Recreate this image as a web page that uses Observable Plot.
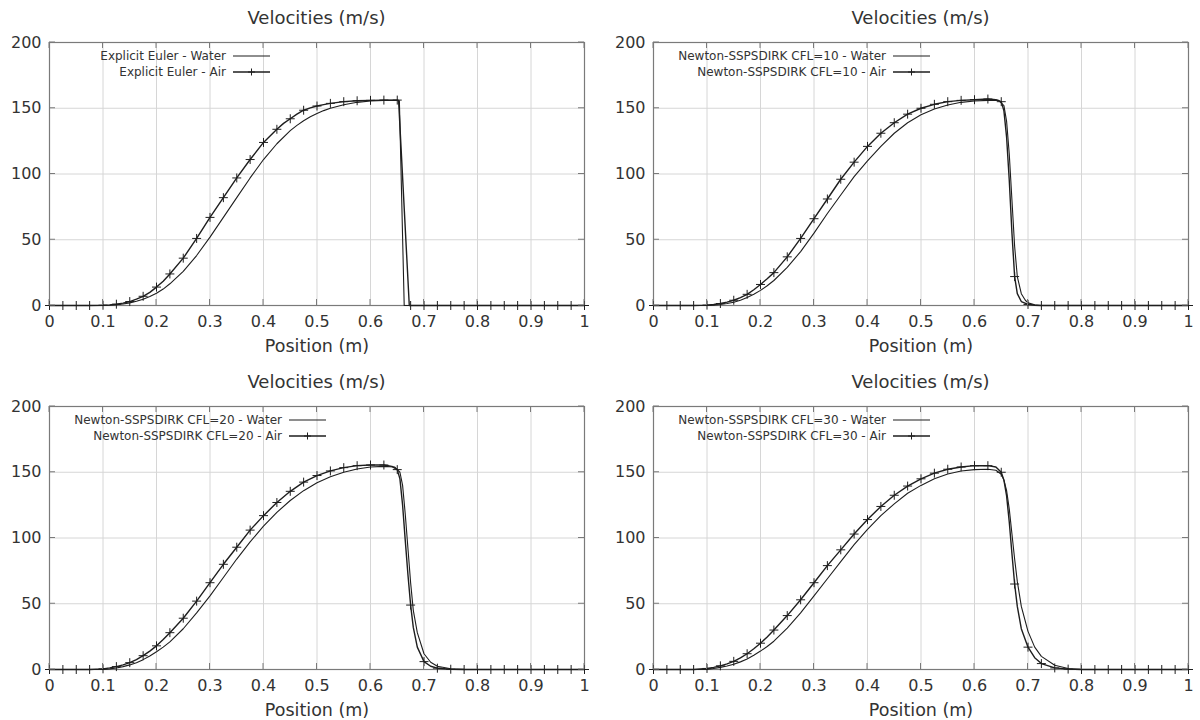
<!DOCTYPE html>
<html><head><meta charset="utf-8">
<script src="https://cdn.jsdelivr.net/npm/d3@7"></script>
<script src="https://cdn.jsdelivr.net/npm/@observablehq/plot@0.6"></script>
<style>
body{margin:0;background:#fff;font-family:"DejaVu Sans",sans-serif;}
#root{position:relative;width:1200px;height:720px;overflow:hidden;background:#fff;}
.panel{position:absolute;width:600px;height:360px;}
.title{position:absolute;top:7px;font-size:18px;line-height:22px;text-align:center;color:#333;white-space:nowrap;}
.panel svg{position:absolute;top:30px;left:0;}
</style></head><body><div id="root"></div>
<script>
// ---- tick labels ----
const xTicks = [0, 0.1, 0.2, 0.3, 0.4, 0.5, 0.6, 0.7, 0.8, 0.9, 1];
const yTicks = [0, 50, 100, 150, 200];
const titleText = "Velocities (m/s)";
const xLabel = "Position (m)";

// ---- series: [position (m), velocity (m/s)] ----
const eulerWater = [[0,0],[0.025,0],[0.05,0],[0.075,0],[0.1,0],[0.1125,0.2],[0.125,0.6],[0.1375,1.2],[0.15,2],[0.1625,3.2],[0.175,4.8],[0.1875,6.8],[0.2,9.3],[0.2125,12.5],[0.225,16.5],[0.25,26],[0.275,38],[0.3,52],[0.325,67],[0.35,82],[0.375,97],[0.4,111],[0.425,123],[0.45,133],[0.4625,137],[0.475,140.5],[0.4875,143.5],[0.5,146],[0.5125,148.2],[0.525,150],[0.55,152.7],[0.575,154.5],[0.6,155.5],[0.625,156],[0.65,156],[0.654,155.5],[0.663,0],[0.7,0],[0.8,0],[0.9,0],[1,0]];
const eulerAir = [[0,0],[0.025,0],[0.05,0],[0.075,0],[0.1,0.2],[0.1125,0.5],[0.125,1],[0.1375,1.8],[0.15,3],[0.1625,4.8],[0.175,7],[0.1875,10],[0.2,14],[0.2125,18.5],[0.225,24],[0.25,36],[0.275,51],[0.3,67],[0.325,82],[0.35,97],[0.375,111],[0.4,124],[0.425,134],[0.4375,138.5],[0.45,142],[0.4625,145.5],[0.475,148.5],[0.4875,150.3],[0.5,151.7],[0.5125,152.8],[0.525,153.7],[0.55,155],[0.575,155.7],[0.6,156],[0.625,156.2],[0.65,156.2],[0.6525,156],[0.6725,0],[0.675,0],[0.7,0],[0.725,0],[0.75,0],[0.775,0],[0.8,0],[0.825,0],[0.85,0],[0.875,0],[0.9,0],[0.925,0],[0.95,0],[0.975,0],[1,0]];

const cfl10Water = [[0,0],[0.025,0],[0.05,0],[0.075,0],[0.1,0],[0.1125,0.3],[0.125,0.8],[0.1375,1.5],[0.15,2.5],[0.1625,4],[0.175,6],[0.1875,8.5],[0.2,11.5],[0.2125,15],[0.225,19],[0.25,29],[0.275,41],[0.3,55],[0.325,70],[0.35,84],[0.375,98],[0.4,110],[0.425,121],[0.45,131],[0.475,139],[0.5,145],[0.525,149.5],[0.55,152.5],[0.575,154.5],[0.6,155.5],[0.625,156],[0.645,156],[0.655,152],[0.66,140],[0.665,115],[0.67,80],[0.675,45],[0.68,22],[0.6875,9],[0.695,4],[0.7,2],[0.7125,0.5],[0.725,0],[0.8,0],[0.9,0],[1,0]];
const cfl10Air = [[0,0],[0.025,0],[0.05,0],[0.075,0],[0.1,0.3],[0.1125,0.8],[0.125,1.5],[0.1375,2.6],[0.15,4],[0.1625,6],[0.175,8.5],[0.1875,12],[0.2,16],[0.2125,20.3],[0.225,25],[0.25,37],[0.275,51],[0.3,66],[0.325,81],[0.35,96],[0.375,109],[0.4,121],[0.425,131],[0.45,139],[0.475,145.5],[0.5,150],[0.525,153],[0.55,155],[0.575,156],[0.6,156.5],[0.625,157],[0.64,156.5],[0.65,155],[0.655,148],[0.66,128],[0.665,95],[0.67,55],[0.675,22],[0.68,9],[0.6875,3],[0.7,0.8],[0.7125,0.2],[0.725,0],[0.75,0],[0.775,0],[0.8,0],[0.825,0],[0.85,0],[0.875,0],[0.9,0],[0.925,0],[0.95,0],[0.975,0],[1,0]];

const cfl20Water = [[0,0],[0.025,0],[0.05,0],[0.075,0],[0.1,0],[0.1125,0.5],[0.125,1.2],[0.1375,2.2],[0.15,3.5],[0.1625,5.2],[0.175,7.5],[0.1875,10.3],[0.2,13.5],[0.2125,17],[0.225,21],[0.25,31],[0.275,43],[0.3,56],[0.325,70],[0.35,84],[0.375,97],[0.4,109],[0.425,119.5],[0.45,128.5],[0.475,136],[0.5,142],[0.525,146.5],[0.55,150],[0.575,152.5],[0.6,154],[0.625,154.5],[0.645,154],[0.655,150],[0.66,140],[0.665,118],[0.67,92],[0.675,66],[0.68,45],[0.6875,28],[0.7,12],[0.7125,5.5],[0.725,2.5],[0.75,0.6],[0.775,0.1],[0.8,0],[0.9,0],[1,0]];
const cfl20Air = [[0,0],[0.025,0],[0.05,0],[0.075,0],[0.1,0.5],[0.1125,1.2],[0.125,2.2],[0.1375,3.5],[0.15,5.2],[0.1625,7.5],[0.175,10.5],[0.1875,14],[0.2,18],[0.2125,22.8],[0.225,28],[0.25,39],[0.275,52],[0.3,66],[0.325,80],[0.35,93],[0.375,106],[0.4,117],[0.425,127],[0.45,135.5],[0.475,142.5],[0.5,147.5],[0.525,151],[0.55,153.5],[0.575,155],[0.6,155.5],[0.625,155.5],[0.64,154.5],[0.65,152],[0.655,145],[0.66,125],[0.665,98],[0.67,72],[0.675,49],[0.68,32],[0.6875,17],[0.7,6],[0.7125,2.5],[0.725,1],[0.75,0.2],[0.775,0],[0.8,0],[0.825,0],[0.85,0],[0.875,0],[0.9,0],[0.925,0],[0.95,0],[0.975,0],[1,0]];

const cfl30Water = [[0,0],[0.025,0],[0.05,0],[0.075,0],[0.1,0],[0.1125,0.8],[0.125,1.6],[0.1375,2.7],[0.15,4],[0.1625,5.8],[0.175,8],[0.1875,10.8],[0.2,14],[0.2125,17.5],[0.225,21.5],[0.25,31.5],[0.275,43],[0.3,56],[0.325,69],[0.35,82],[0.375,95],[0.4,106.5],[0.425,117],[0.45,126],[0.475,134],[0.5,140],[0.525,145],[0.55,148.7],[0.575,151],[0.6,152],[0.625,152.3],[0.64,151.5],[0.65,148.5],[0.655,144],[0.66,136],[0.665,122],[0.67,103],[0.675,84],[0.68,67],[0.6875,48],[0.7,29],[0.7125,17],[0.725,10],[0.75,3.2],[0.775,0.8],[0.8,0.1],[0.825,0],[0.9,0],[1,0]];
const cfl30Air = [[0,0],[0.025,0],[0.05,0],[0.075,0],[0.1,0.8],[0.1125,1.6],[0.125,2.8],[0.1375,4.3],[0.15,6.2],[0.1625,8.8],[0.175,12],[0.1875,15.8],[0.2,20],[0.2125,24.8],[0.225,30],[0.25,41],[0.275,53],[0.3,66],[0.325,79],[0.35,91],[0.375,103],[0.4,114],[0.425,124],[0.45,132.5],[0.475,139.5],[0.5,145],[0.525,149.3],[0.55,152.3],[0.575,154],[0.6,155],[0.625,155],[0.64,154],[0.65,150],[0.655,144],[0.66,132],[0.665,112],[0.67,88],[0.675,65],[0.68,48],[0.6875,31],[0.7,17],[0.7125,9],[0.725,4.5],[0.75,1.2],[0.775,0.3],[0.8,0],[0.825,0],[0.85,0],[0.875,0],[0.9,0],[0.925,0],[0.95,0],[0.975,0],[1,0]];

// ---- panel labels ----
const methodLabels = ["Explicit Euler", "Newton-SSPSDIRK CFL=10", "Newton-SSPSDIRK CFL=20", "Newton-SSPSDIRK CFL=30"];
const waterSeries = [eulerWater, cfl10Water, cfl20Water, cfl30Water];
const airSeries = [eulerAir, cfl10Air, cfl20Air, cfl30Air];
const panelLeft = [0, 604, 0, 604];
const panelTop = [0, 0, 364, 364];

const W = 600, H = 330;
const M = {top: 12, right: 16, bottom: 55, left: 49};
const ink = "#1e1e1e", frameColor = "#7a7a7a", gridColor = "#d6d6d6", textColor = "#333";

const root = document.getElementById("root");

methodLabels.forEach((method, i) => {
  const water = waterSeries[i], air = airSeries[i];
  const markers = air.filter(d => Math.abs(d[0] * 40 - Math.round(d[0] * 40)) < 1e-6);

  const panel = document.createElement("div");
  panel.className = "panel";
  panel.style.left = panelLeft[i] + "px";
  panel.style.top = panelTop[i] + "px";
  root.appendChild(panel);

  const title = document.createElement("div");
  title.className = "title";
  title.style.left = M.left + "px";
  title.style.width = (W - M.left - M.right) + "px";
  title.textContent = titleText;
  panel.appendChild(title);

  const plot = Plot.plot({
    width: W, height: H,
    marginTop: M.top, marginRight: M.right, marginBottom: M.bottom, marginLeft: M.left,
    style: {fontFamily: "'DejaVu Sans', sans-serif", fontSize: "16px", color: textColor, background: "transparent", overflow: "visible"},
    x: {domain: [0, 1], ticks: xTicks, tickFormat: d3.format("~g"), tickSize: 0, tickPadding: 10,
        label: xLabel, labelAnchor: "center", labelOffset: 46, labelArrow: "none"},
    y: {domain: [0, 200], ticks: yTicks, tickFormat: d3.format("~g"), tickSize: 0, tickPadding: 8, label: null},
    marks: [
      Plot.gridX(xTicks, {stroke: gridColor, strokeOpacity: 1}),
      Plot.gridY(yTicks, {stroke: gridColor, strokeOpacity: 1}),
      Plot.frame({stroke: frameColor, strokeWidth: 1.2}),
      Plot.line(water, {x: d => d[0], y: d => d[1], stroke: ink, strokeWidth: 1.1}),
      Plot.line(air, {x: d => d[0], y: d => d[1], stroke: ink, strokeWidth: 1.4}),
      Plot.dot(markers, {x: d => d[0], y: d => d[1], symbol: "plus", r: 3, stroke: ink, fill: "none", strokeWidth: 1})
    ]
  });
  panel.appendChild(plot);

  // x-axis title size
  d3.select(plot).selectAll("g[aria-label='x-axis label'] text").attr("font-size", 17.5);

  // inward ticks on all four sides (gnuplot style), placed with the plot's scales
  const sx = plot.scale("x"), sy = plot.scale("y");
  const [x0, x1] = sx.range;
  const [y0, y1] = sy.range;
  const svg = d3.select(plot);
  const tg = svg.append("g").attr("stroke", frameColor).attr("stroke-width", 1);
  xTicks.forEach(t => {
    const px = sx.apply(t);
    tg.append("line").attr("x1", px).attr("x2", px).attr("y1", y0).attr("y2", y0 - 6);
    tg.append("line").attr("x1", px).attr("x2", px).attr("y1", y1).attr("y2", y1 + 6);
  });
  yTicks.forEach(t => {
    const py = sy.apply(t);
    tg.append("line").attr("x1", x0).attr("x2", x0 + 6).attr("y1", py).attr("y2", py);
    tg.append("line").attr("x1", x1).attr("x2", x1 - 6).attr("y1", py).attr("y2", py);
  });

  // key (top-left, text right-aligned before sample)
  const labels = [method + " - Water", method + " - Air"];
  const nChars = Math.max(...labels.map(s => s.length));
  const s0 = x0 + 23 + 7 * nChars + 7, s1 = s0 + 37;
  const lg = svg.append("g");
  labels.forEach((lab, k) => {
    const yy = y1 + 14 + 16 * k;
    lg.append("text").attr("x", s0 - 7).attr("y", yy).attr("dy", "0.35em")
      .attr("text-anchor", "end").attr("font-size", 12).attr("fill", textColor)
      .attr("font-family", "'DejaVu Sans', sans-serif").text(lab);
    lg.append("line").attr("x1", s0).attr("x2", s1).attr("y1", yy).attr("y2", yy)
      .attr("stroke", ink).attr("stroke-width", k ? 1.4 : 1.1);
    if (k === 1) {
      const mx = (s0 + s1) / 2;
      lg.append("path").attr("d", `M${mx - 3.5},${yy}H${mx + 3.5}M${mx},${yy - 3.5}V${yy + 3.5}`)
        .attr("stroke", ink).attr("stroke-width", 1).attr("fill", "none");
    }
  });
});
</script></body></html>
